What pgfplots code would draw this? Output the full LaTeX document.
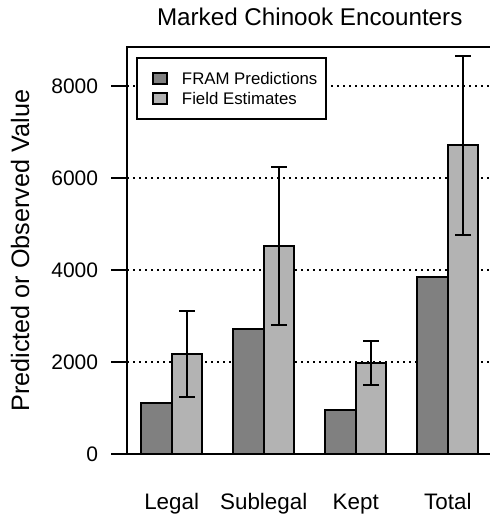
\documentclass[border=0pt]{standalone}
\usepackage{fontspec}
\setmainfont{Liberation Sans}
\usepackage{pgfplots}
\pgfplotsset{compat=1.18}
\usepackage{pgfplotstable}
\definecolor{fram}{RGB}{128,128,128}
\definecolor{field}{RGB}{179,179,179}
\newlength\px \setlength\px{0.5pt}

\pgfplotstableread{
x y
1.5 1121
4.5 2722
7.5 962
10.5 3844
}\framtab
\pgfplotstableread{
x y ep em
2.5 2172 934 934
5.5 4531 1703 1716
8.5 1976 492 477
11.5 6711 1947 1948
}\fieldtab

\begin{document}
\begin{tikzpicture}
\path[use as bounding box] (0,0) rectangle (489\px,521\px);
\begin{axis}[
  at={(127.5\px,66.7\px)}, anchor=south west,
  scale only axis, width=364.5\px, height=407\px,
  xmin=0.56, xmax=12.44, ymin=0, ymax=8840,
  axis line style={line width=1pt, black},
  ytick={0,2000,4000,6000,8000},
  tick align=outside,
  major tick length=16\px,
  ytick style={line width=1pt, black},
  xtick={2,5,8,11},
  xticklabels={Legal,Sublegal,Kept,Total},
  xtick style={draw=none},
  ymajorgrids,
  grid style={black, line width=0.75pt, dash pattern=on 1.5\px off 4.5\px},
  /pgf/number format/assume math mode=true,
  /pgf/number format/set thousands separator={},
  yticklabel style={font=\fontsize{10.5}{12}\selectfont, anchor=east, inner sep=0pt, xshift=-13\px},
  xticklabel style={font=\fontsize{11.2}{13}\selectfont, anchor=base, inner sep=0pt, yshift=-39.7\px},
  title={Marked Chinook Encounters},
  every axis title/.style={at={(axis description cs:0.5,1.0523)}, anchor=base, font=\fontsize{12.1}{14}\selectfont},
  ylabel={Predicted or Observed Value},
  every axis y label/.style={at={(axis description cs:-0.2949,0.5)}, rotate=90, anchor=center, font=\fontsize{12.6}{14}\selectfont},
  legend style={at={(axis description cs:0,1)}, anchor=north west, xshift=8.5\px, yshift=-9.7\px,
    draw=black, line width=1pt, inner xsep=9\px, inner ysep=10.5\px, column sep=14\px,
    font=\fontsize{8.4}{10}\selectfont,
    nodes={inner sep=0pt, text height=16\px, text depth=4\px}},
  legend cell align=left,
]
\addplot[ybar, bar width=1, bar shift=0pt, fill=fram, draw=black, line width=1pt,
  legend image code/.code={\path (-6\px,0); \draw[fill=fram, draw=black, line width=1pt] (0,-5.5\px) rectangle (14\px,5.5\px);}]
  table[x=x,y=y]{\framtab};
\addlegendentry{FRAM Predictions}
\addplot[ybar, bar width=1, bar shift=0pt, fill=field, draw=black, line width=1pt,
  legend image code/.code={\path (-6\px,0); \draw[fill=field, draw=black, line width=1pt] (0,-5.5\px) rectangle (14\px,5.5\px);},
  error bars/.cd, y dir=both, y explicit,
  error mark=-,
  error bar style={line width=1pt, black},
  error mark options={rotate=90, line width=1pt, black, mark size=8\px}]
  table[x=x,y=y,y error plus=ep,y error minus=em]{\fieldtab};
\addlegendentry{Field Estimates}
\end{axis}
\end{tikzpicture}
\end{document}
